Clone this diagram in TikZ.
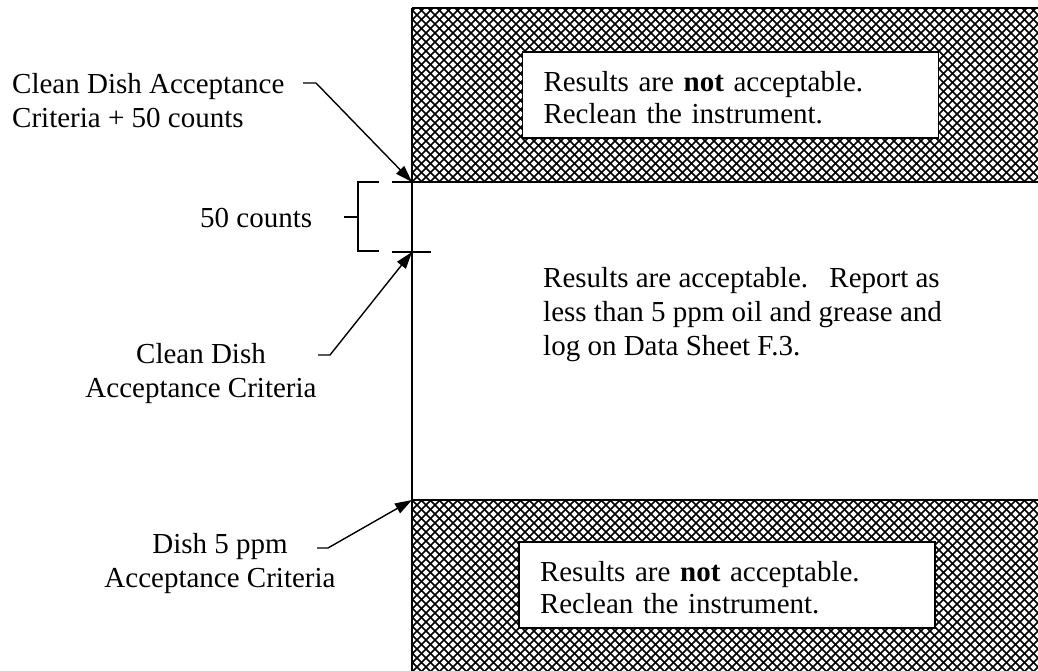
\documentclass[tikz,border=0pt]{standalone}
\usepackage{fontspec}
\setmainfont{Liberation Serif}
\usetikzlibrary{arrows.meta}
\begin{document}
\begin{tikzpicture}[x=1pt,y=-1pt,
  lbl/.style={inner sep=0pt, font=\fontsize{29}{34}\selectfont},
  leader/.style={line width=1.4pt, -{Triangle[length=17pt,width=11pt]}},
  border/.style={line width=1.5pt},
  hatch/.style={line width=1.6pt, black},
  msgbox/.style={draw, line width=1.7pt, fill=white, minimum height=86pt, minimum width=416pt,
    text width=374pt, inner xsep=21pt, inner ysep=0pt, align=left, font=\fontsize{29}{32}\selectfont}]
\useasboundingbox (0,0) rectangle (1038,671);
% hatched regions
\begin{scope}
  \clip (412,8) rectangle (1040,182);
  \foreach \i in {222,231,...,1045} { \draw[hatch] (\i,0) -- ++(200,200); }
  \foreach \i in {405,414,...,1230} { \draw[hatch] (\i,0) -- ++(-200,200); }
\end{scope}
\begin{scope}
  \clip (412,500) rectangle (1040,675);
  \foreach \i in {222,231,...,1045} { \draw[hatch] (\i,490) -- ++(200,200); }
  \foreach \i in {405,414,...,1230} { \draw[hatch] (\i,490) -- ++(-200,200); }
\end{scope}
% key points on the scale
\coordinate (top) at (412,8);
\coordinate (p1) at (412,182);
\coordinate (p2) at (412,252);
\coordinate (p3) at (412,500);
\coordinate (bot) at (412,671);
\coordinate (rt1) at (1038,8);
\coordinate (rt2) at (1038,182);
\coordinate (rt3) at (1038,500);
\coordinate (t1) at (392,182);
\coordinate (t2a) at (392,252);
\coordinate (t2b) at (431,252);
% borders and scale line
\draw[border] (top) -- (rt1);
\draw[border] (top) -- (bot);
\draw[border] (t1) -- (rt2);
\draw[border] (p3) -- (rt3);
\draw[border] (t2a) -- (t2b);
% bracket
\coordinate (b1) at (379,182);
\coordinate (b2) at (358,182);
\coordinate (b3) at (358,251);
\coordinate (b4) at (379,251);
\coordinate (bm) at (358,217);
\coordinate (bmt) at (344,217);
\draw[border] (b1) -- (b2) -- (b3) -- (b4);
\draw[border] (bm) -- (bmt);
% message boxes
\node[msgbox] (box1) at (730.5,95)
  {\rule{0pt}{26pt}Results are \textbf{not} acceptable.\\Reclean the instrument.};
\node[msgbox] (box2) at (727,585)
  {\rule{0pt}{26pt}Results are \textbf{not} acceptable.\\Reclean the instrument.};
% middle text
\node[lbl, anchor=base west, align=left] (mid) at (543,355)
  {Results are acceptable.\hspace{0.4em} Report as\\less than 5 ppm oil and grease and\\log on Data Sheet F.3.};
% labels
\node[lbl, anchor=base west, align=left] (lab1) at (12,128) {Clean Dish Acceptance\\Criteria + 50 counts};
\node[lbl, anchor=base west] (lab2) at (200,227) {50 counts};
\node[lbl, anchor=base, align=center] (lab3) at (201,397) {Clean Dish\\Acceptance Criteria};
\node[lbl, anchor=base, align=center] (lab4) at (220,587) {Dish 5 ppm\\Acceptance Criteria};
% leaders
\coordinate (l1a) at (303,83);
\coordinate (l1b) at (316,83);
\coordinate (l2a) at (318,355);
\coordinate (l2b) at (330,355);
\coordinate (l3a) at (317,548);
\coordinate (l3b) at (328,548);
\draw[leader] (l1a) -- (l1b) -- (p1);
\draw[leader] (l2a) -- (l2b) -- (p2);
\draw[leader] (l3a) -- (l3b) -- (p3);
\end{tikzpicture}
\end{document}
